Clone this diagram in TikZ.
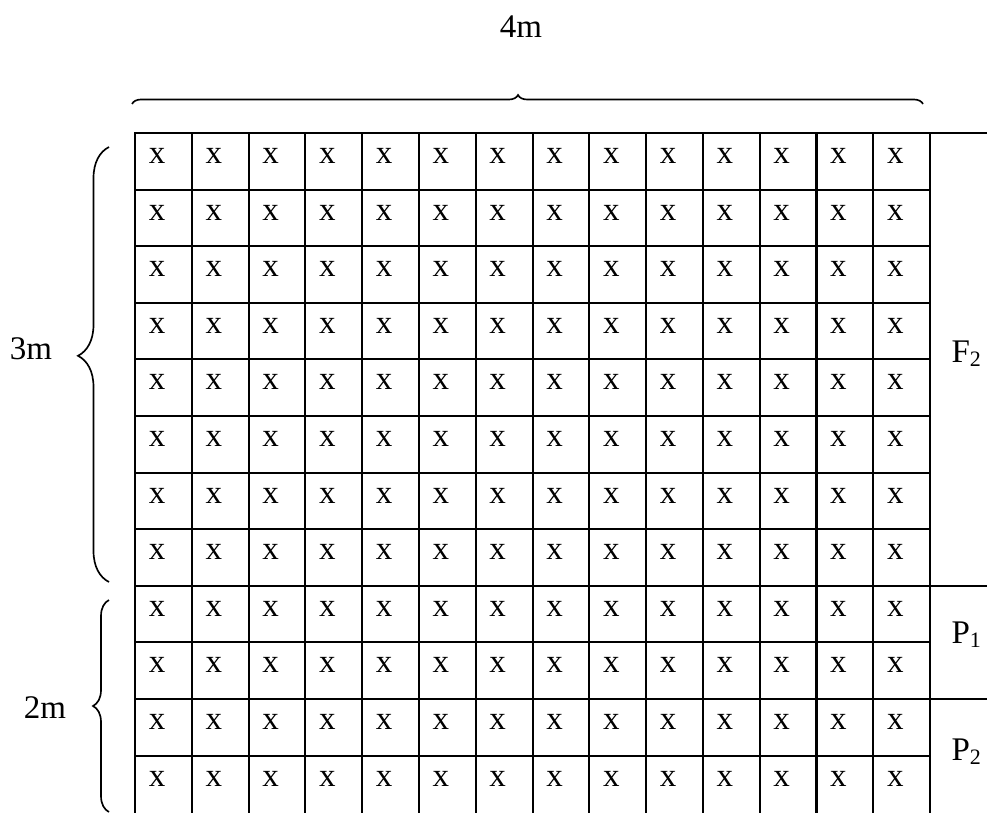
\documentclass[tikz,border=0pt]{standalone}
\usepackage{fontspec}
\setmainfont{Liberation Serif}
\usetikzlibrary{decorations.pathreplacing}
\begin{document}
\begin{tikzpicture}[x=0.3636pt,y=-0.3636pt,
  font=\fontsize{12}{14}\selectfont,
  gridline/.style={line width=0.75pt,line cap=rect},
  cellx/.style={inner sep=0pt,anchor=center},
  lbl/.style={inner sep=0pt,anchor=base},
  sidelbl/.style={inner sep=0pt,anchor=base west},
  bracebig/.style={decorate,decoration={brace,amplitude=#1},line width=0.6pt}]
\useasboundingbox (0,0) rectangle (987,812);
\def\cw{56.79}
\def\rh{56.6}
\begin{scope}
\clip (0,0) rectangle (987,812);
% vertical grid lines
\foreach \c in {0,...,14}
  \draw[gridline] ({135+\c*\cw},133) -- ({135+\c*\cw},815);
% horizontal grid lines
\foreach \r in {1,...,7,9,11}
  \draw[gridline] (135,{133+\r*\rh}) -- (930,{133+\r*\rh});
\foreach \r in {0,8,10}
  \draw[gridline] (135,{133+\r*\rh}) -- (990,{133+\r*\rh});
% cell marks
\foreach \c in {0,...,13}
  \foreach \r in {0,...,11}
    \node[cellx] (x-\c-\r) at ({135+\c*\cw+22},{133+\r*\rh+23}) {x};
\end{scope}
% labels
\node[lbl] (w4) at (521,38) {4m};
\node[lbl] (h3) at (31,359) {3m};
\node[lbl] (h2) at (45,718) {2m};
\node[sidelbl] (f2) at (951,362) {F\raisebox{-1.5pt}{\fontsize{8}{8}\selectfont 2}};
\node[sidelbl] (p1) at (951,643) {P\raisebox{-1.5pt}{\fontsize{8}{8}\selectfont 1}};
\node[sidelbl] (p2) at (951,760) {P\raisebox{-1.5pt}{\fontsize{8}{8}\selectfont 2}};
% braces
\coordinate (tl) at (132,104);
\coordinate (tr) at (923,104);
\coordinate (b3a) at (109,582);
\coordinate (b3b) at (109,147);
\coordinate (b2a) at (109,812);
\coordinate (b2b) at (109,600);
\draw[bracebig=9pt*0.3636,decoration={aspect=0.488}] (tl) -- (tr);
\draw[bracebig=31*0.3636pt,decoration={aspect=0.52}] (b3a) -- (b3b);
\draw[bracebig=16*0.3636pt,decoration={aspect=0.5}] (b2a) -- (b2b);
\end{tikzpicture}
\end{document}
